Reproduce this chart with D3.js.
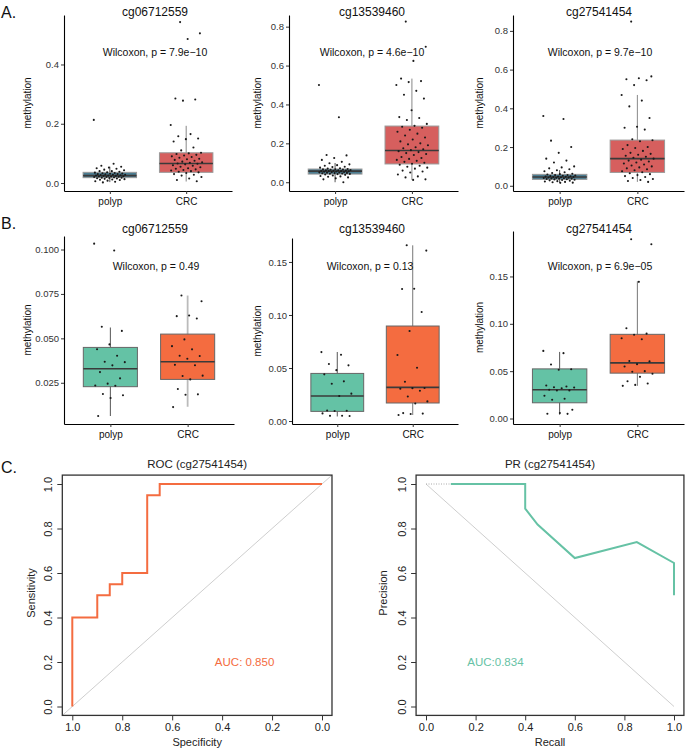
<!DOCTYPE html>
<html>
<head>
<meta charset="utf-8">
<script src="https://cdn.jsdelivr.net/npm/d3@7"></script>
<style>
body { margin: 0; background: #fff; }
svg { font-family: "Liberation Sans", Arial, sans-serif; }
</style>
</head>
<body>
<svg id="fig" width="685" height="750"></svg>
<script>
// ---- data ----
var groups = ["polyp", "CRC"];
var probes = ["cg06712559", "cg13539460", "cg27541454"];

// Panel A (large cohort)
var pValuesA = ["7.9e\u221210", "4.6e\u221210", "9.7e\u221210"];
// [lower whisker, q1, median, q3, upper whisker]
var boxPolypA = [[0.003, 0.018, 0.025, 0.036, 0.055], [0.0, 0.042, 0.057, 0.068, 0.099], [0.015, 0.033, 0.045, 0.059, 0.081]];
var boxCrcA = [[0.005, 0.036, 0.066, 0.102, 0.193], [0.012, 0.094, 0.163, 0.289, 0.533], [0.02, 0.069, 0.14, 0.236, 0.469]];
var polypA1 = [0.213, 0.065, 0.058, 0.055, 0.052, 0.05, 0.048, 0.045, 0.043, 0.04, 0.04, 0.038, 0.036, 0.035, 0.034, 0.033, 0.032, 0.031, 0.03, 0.03, 0.029, 0.028, 0.028, 0.027, 0.026, 0.025, 0.025, 0.024, 0.024, 0.023, 0.022, 0.022, 0.021, 0.02, 0.02, 0.019, 0.018, 0.018, 0.017, 0.016, 0.015, 0.014, 0.013, 0.012, 0.011, 0.01, 0.008, 0.006, 0.004, 0.002];
var crcA1 = [0.543, 0.505, 0.486, 0.285, 0.282, 0.278, 0.196, 0.165, 0.158, 0.15, 0.148, 0.14, 0.12, 0.11, 0.102, 0.1, 0.098, 0.095, 0.093, 0.09, 0.088, 0.085, 0.082, 0.08, 0.078, 0.075, 0.072, 0.07, 0.068, 0.066, 0.065, 0.063, 0.06, 0.058, 0.055, 0.053, 0.05, 0.048, 0.046, 0.044, 0.042, 0.04, 0.038, 0.036, 0.034, 0.03, 0.028, 0.025, 0.02, 0.015, 0.01, 0.006];
var polypA2 = [0.5, 0.334, 0.14, 0.138, 0.125, 0.115, 0.105, 0.098, 0.092, 0.088, 0.085, 0.08, 0.078, 0.075, 0.072, 0.07, 0.068, 0.067, 0.066, 0.065, 0.064, 0.063, 0.062, 0.061, 0.06, 0.059, 0.058, 0.057, 0.057, 0.056, 0.055, 0.054, 0.053, 0.052, 0.051, 0.05, 0.049, 0.048, 0.047, 0.046, 0.045, 0.044, 0.043, 0.042, 0.04, 0.038, 0.035, 0.032, 0.03, 0.028, 0.025, 0.02, 0.015, 0.0];
var crcA2 = [0.826, 0.697, 0.624, 0.533, 0.52, 0.515, 0.5, 0.47, 0.45, 0.43, 0.37, 0.335, 0.33, 0.32, 0.3, 0.29, 0.285, 0.28, 0.27, 0.26, 0.25, 0.24, 0.23, 0.22, 0.21, 0.2, 0.195, 0.19, 0.18, 0.175, 0.17, 0.165, 0.16, 0.155, 0.15, 0.145, 0.14, 0.13, 0.125, 0.12, 0.115, 0.11, 0.105, 0.1, 0.095, 0.09, 0.085, 0.08, 0.075, 0.07, 0.06, 0.055, 0.05, 0.04, 0.03, 0.025, 0.015, 0.012];
var polypA3 = [0.36, 0.345, 0.233, 0.2, 0.17, 0.14, 0.13, 0.12, 0.1, 0.095, 0.09, 0.085, 0.08, 0.075, 0.07, 0.066, 0.062, 0.06, 0.058, 0.056, 0.055, 0.053, 0.052, 0.05, 0.049, 0.048, 0.047, 0.046, 0.045, 0.045, 0.044, 0.043, 0.042, 0.041, 0.04, 0.039, 0.038, 0.037, 0.036, 0.035, 0.034, 0.033, 0.031, 0.03, 0.028, 0.026, 0.024, 0.022, 0.02, 0.018, 0.016, 0.015];
var crcA3 = [0.848, 0.565, 0.555, 0.55, 0.545, 0.52, 0.469, 0.44, 0.41, 0.35, 0.305, 0.3, 0.29, 0.24, 0.235, 0.23, 0.21, 0.2, 0.195, 0.19, 0.18, 0.17, 0.165, 0.16, 0.155, 0.15, 0.145, 0.14, 0.135, 0.13, 0.125, 0.12, 0.115, 0.11, 0.105, 0.1, 0.095, 0.09, 0.085, 0.08, 0.075, 0.07, 0.065, 0.06, 0.055, 0.05, 0.045, 0.04, 0.035, 0.03, 0.025, 0.02];

// Panel B (validation cohort)
var pValuesB = ["0.49", "0.13", "6.9e\u221205"];
var boxPolypB = [[0.0063, 0.0228, 0.0329, 0.0449, 0.0561], [0.0043, 0.0091, 0.0236, 0.0449, 0.0651], [0.004, 0.0166, 0.0303, 0.0524, 0.0703]];
var boxCrcB = [[0.0115, 0.0269, 0.0368, 0.0524, 0.0741], [0.0057, 0.017, 0.0317, 0.0896, 0.1657], [0.0345, 0.0479, 0.0587, 0.0889, 0.145]];
var polypB1 = [0.1033, 0.0994, 0.0565, 0.0542, 0.0466, 0.0439, 0.0402, 0.0368, 0.0366, 0.0348, 0.031, 0.0275, 0.0245, 0.0235, 0.0233, 0.0187, 0.018, 0.0164, 0.0063];
var crcB1 = [0.0741, 0.0709, 0.0629, 0.0625, 0.0612, 0.0494, 0.0456, 0.0438, 0.0402, 0.0401, 0.0385, 0.0351, 0.0349, 0.0288, 0.029, 0.0269, 0.0215, 0.0185, 0.0183, 0.0113];
var polypB2 = [0.065, 0.0625, 0.0538, 0.0525, 0.048, 0.044, 0.0374, 0.0352, 0.0258, 0.0236, 0.01, 0.0097, 0.0095, 0.0072, 0.005, 0.0049, 0.0048];
var crcB2 = [0.1657, 0.1607, 0.1248, 0.1245, 0.1028, 0.0849, 0.0622, 0.0503, 0.0371, 0.0311, 0.031, 0.0305, 0.0286, 0.0232, 0.0185, 0.0166, 0.0075, 0.007, 0.0066, 0.0057];
var polypB3 = [0.0714, 0.069, 0.057, 0.052, 0.0515, 0.0349, 0.0338, 0.033, 0.0328, 0.032, 0.0303, 0.0297, 0.0295, 0.024, 0.0208, 0.0198, 0.0093, 0.0058, 0.005, 0.0049];
var crcB3 = [0.1893, 0.184, 0.1443, 0.0953, 0.0896, 0.0885, 0.0847, 0.0837, 0.0608, 0.0603, 0.0574, 0.0549, 0.05, 0.0493, 0.0472, 0.044, 0.0394, 0.037, 0.0355, 0.0345];

// Panel C
var rocSpec = [1.0, 1.0, 0.9, 0.9, 0.85, 0.85, 0.8, 0.8, 0.7, 0.7, 0.65, 0.65, 0.0];
var rocSens = [0.0, 0.4, 0.4, 0.5, 0.5, 0.55, 0.55, 0.6, 0.6, 0.95, 0.95, 1.0, 1.0];
var prRecall = [0.1, 0.4, 0.4, 0.45, 0.6, 0.85, 1.0, 1.0];
var prPrecision = [1.0, 1.0, 0.889, 0.818, 0.667, 0.739, 0.645, 0.5];
var rocAuc = "AUC: 0.850";
var prAuc = "AUC:0.834";
var ticks01 = [0, 0.2, 0.4, 0.6, 0.8, 1.0];

// ---- style ----
var fillA = ["#4b7d92", "#d65f5e"];
var fillB = ["#64c2a5", "#f46c40"];
var orange = "#f46c40", green = "#66c2a5";
var svg = d3.select("#fig");

function boxPanel(cfg) {
	var g = svg.append("g");
	var x = d3.scalePoint().domain(groups).range([cfg.left, cfg.right]).padding(0.6);
	var y = d3.scaleLinear().domain(cfg.dom).range([cfg.bottom, cfg.top]);
	var u = x.step();
	var bw = 0.7 * u;
	groups.forEach(function (grp, gi) {
		var s = cfg.stats[gi], cx = x(grp);
		g.append("line").attr("x1", cx).attr("x2", cx).attr("y1", y(s[0])).attr("y2", y(s[4]))
			.attr("stroke", cfg.whisker[gi]).attr("stroke-width", cfg.whiskerW[gi]);
		g.append("rect").attr("x", cx - bw / 2).attr("width", bw).attr("y", y(s[3])).attr("height", y(s[1]) - y(s[3]))
			.attr("fill", cfg.fills[gi]).attr("stroke", cfg.outline).attr("stroke-width", 1);
		g.append("line").attr("x1", cx - bw / 2).attr("x2", cx + bw / 2).attr("y1", y(s[2])).attr("y2", y(s[2]))
			.attr("stroke", "#3a3a3a").attr("stroke-width", 1.6);
		g.selectAll(null).data(cfg.points[gi]).enter().append("circle")
			.attr("cx", function (d, i) { return cx + ((i * 0.6180339887 + gi * 0.31) % 1 - 0.5) * 0.42 * u; })
			.attr("cy", function (d) { return y(d); })
			.attr("r", 1.05).attr("fill", "#1a1a1a");
	});
	var ya = g.append("g").attr("transform", "translate(" + cfg.left + ",0)")
		.call(d3.axisLeft(y).tickValues(cfg.ticks).tickFormat(d3.format(cfg.fmt)).tickSize(3).tickSizeOuter(0).tickPadding(2));
	var xa = g.append("g").attr("transform", "translate(0," + cfg.bottom + ")")
		.call(d3.axisBottom(x).tickSize(3).tickSizeOuter(0).tickPadding(4));
	[ya, xa].forEach(function (a) {
		a.select(".domain").attr("stroke", "#000").attr("stroke-width", 1.1);
		a.selectAll(".tick line").attr("stroke", "#333");
		a.selectAll(".tick text").attr("fill", "#333").attr("font-size", 9.5).attr("font-family", "Liberation Sans, Arial, sans-serif");
	});
	xa.selectAll(".tick text").attr("fill", "#111").attr("font-size", 10);
	g.append("text").attr("transform", "translate(" + cfg.ylabX + "," + ((cfg.top + cfg.bottom) / 2) + ") rotate(-90)")
		.attr("text-anchor", "middle").attr("font-size", 10).attr("fill", "#111").text("methylation");
	g.append("text").attr("x", cfg.titleX).attr("y", cfg.titleY).attr("text-anchor", "middle")
		.attr("font-size", 12).attr("fill", "#111").text(cfg.title);
	g.append("text").attr("x", cfg.pX).attr("y", cfg.pY).attr("text-anchor", "middle")
		.attr("font-size", 10.5).attr("fill", "#111").text("Wilcoxon, p = " + cfg.p);
}

var frameA = [
	{ left: 64, right: 232, dom: [-0.027, 0.567], ticks: [0, 0.2, 0.4], ylabX: 31, titleX: 155, pX: 155 },
	{ left: 289, right: 458, dom: [-0.045, 0.86], ticks: [0, 0.2, 0.4, 0.6, 0.8], ylabX: 261, titleX: 372, pX: 372 },
	{ left: 513, right: 684, dom: [-0.027, 0.882], ticks: [0, 0.2, 0.4, 0.6, 0.8], ylabX: 483, titleX: 599, pX: 600 }
];
var ptsA = [[polypA1, crcA1], [polypA2, crcA2], [polypA3, crcA3]];
frameA.forEach(function (f, i) {
	boxPanel({
		left: f.left, right: f.right, top: 15, bottom: 191, dom: f.dom, ticks: f.ticks, fmt: ".1f",
		stats: [boxPolypA[i], boxCrcA[i]], points: ptsA[i], fills: fillA, outline: "#9a9a9a",
		whisker: ["#555", "#888"], whiskerW: [1, 1],
		ylabX: f.ylabX, title: probes[i], titleX: f.titleX, titleY: 16, p: pValuesA[i], pX: f.pX, pY: 56
	});
});

var frameB = [
	{ left: 64, right: 234, top: 236, dom: [0.0018, 0.1076], ticks: [0.025, 0.05, 0.075, 0.1], fmt: ".3f", ylabX: 31, titleX: 155, pX: 156 },
	{ left: 292, right: 458, top: 238, dom: [-0.0028, 0.1726], ticks: [0, 0.05, 0.1, 0.15], fmt: ".2f", ylabX: 261, titleX: 372, pX: 370 },
	{ left: 513, right: 684, top: 231, dom: [-0.0058, 0.198], ticks: [0, 0.05, 0.1, 0.15], fmt: ".2f", ylabX: 483, titleX: 599, pX: 600 }
];
var ptsB = [[polypB1, crcB1], [polypB2, crcB2], [polypB3, crcB3]];
frameB.forEach(function (f, i) {
	boxPanel({
		left: f.left, right: f.right, top: f.top, bottom: 424, dom: f.dom, ticks: f.ticks, fmt: f.fmt,
		stats: [boxPolypB[i], boxCrcB[i]], points: ptsB[i], fills: fillB, outline: "#666",
		whisker: ["#555", i === 0 ? "#bbb" : "#777"], whiskerW: [1, i === 0 ? 1.8 : 1],
		ylabX: f.ylabX, title: probes[i], titleX: f.titleX, titleY: 233, p: pValuesB[i], pX: f.pX, pY: 270
	});
});

// ---- panel C: base-R style curves ----
function curvePanel(cfg) {
	var g = svg.append("g");
	var x = d3.scaleLinear().domain(cfg.xdom).range([cfg.x0, cfg.x1]);
	var y = d3.scaleLinear().domain([0, 1]).range([706.5, 484]);
	var pad = 0.04;
	var fx0 = x(cfg.xdom[0] - pad * (cfg.xdom[1] - cfg.xdom[0])), fx1 = x(cfg.xdom[1] + pad * (cfg.xdom[1] - cfg.xdom[0]));
	var fy0 = y(-pad), fy1 = y(1 + pad);
	var clipId = "clip" + cfg.id;
	g.append("clipPath").attr("id", clipId).append("rect")
		.attr("x", Math.min(fx0, fx1)).attr("y", fy1).attr("width", Math.abs(fx1 - fx0)).attr("height", fy0 - fy1);
	var body = g.append("g").attr("clip-path", "url(#" + clipId + ")");
	body.append("line").attr("x1", x(cfg.diag[0][0])).attr("y1", y(cfg.diag[0][1]))
		.attr("x2", x(cfg.diag[1][0])).attr("y2", y(cfg.diag[1][1]))
		.attr("stroke", "#c8c8c8").attr("stroke-width", 0.9);
	if (cfg.lead) {
		body.append("line").attr("x1", x(cfg.lead[0][0])).attr("y1", y(cfg.lead[0][1]))
			.attr("x2", x(cfg.lead[1][0])).attr("y2", y(cfg.lead[1][1]))
			.attr("stroke", "#aaa").attr("stroke-width", 1).attr("stroke-dasharray", "1,1.5");
	}
	var line = d3.line().x(function (d) { return x(d[0]); }).y(function (d) { return y(d[1]); });
	body.append("path").datum(d3.zip(cfg.xs, cfg.ys)).attr("d", line)
		.attr("fill", "none").attr("stroke", cfg.color).attr("stroke-width", 2);
	g.append("rect").attr("x", Math.min(fx0, fx1)).attr("y", fy1).attr("width", Math.abs(fx1 - fx0)).attr("height", fy0 - fy1)
		.attr("fill", "none").attr("stroke", "#333").attr("stroke-width", 1.3);
	var xa = g.append("g").attr("transform", "translate(0," + fy0 + ")")
		.call(d3.axisBottom(x).tickValues(ticks01).tickFormat(d3.format(".1f")).tickSize(5).tickPadding(3));
	xa.select(".domain").remove();
	var ya = g.append("g").attr("transform", "translate(" + Math.min(fx0, fx1) + ",0)")
		.call(d3.axisLeft(y).tickValues(ticks01).tickFormat(d3.format(".1f")).tickSize(5));
	ya.select(".domain").remove();
	ya.selectAll(".tick text").attr("transform", "rotate(-90)").attr("text-anchor", "middle").attr("x", 0).attr("y", -10).attr("dy", 0);
	[xa, ya].forEach(function (a) {
		a.selectAll(".tick line").attr("stroke", "#333");
		a.selectAll(".tick text").attr("fill", "#222").attr("font-size", 11).attr("font-family", "Liberation Sans, Arial, sans-serif");
	});
	var cx = (fx0 + fx1) / 2;
	g.append("text").attr("x", cx).attr("y", 468).attr("text-anchor", "middle").attr("font-size", 11.5).attr("fill", "#222").text(cfg.title);
	g.append("text").attr("x", cx).attr("y", 746).attr("text-anchor", "middle").attr("font-size", 11).attr("fill", "#222").text(cfg.xlab);
	g.append("text").attr("transform", "translate(" + cfg.ylabX + ",593) rotate(-90)").attr("text-anchor", "middle")
		.attr("font-size", 11).attr("fill", "#222").text(cfg.ylab);
	g.append("text").attr("x", x(cfg.aucAt[0])).attr("y", y(cfg.aucAt[1])).attr("text-anchor", "middle")
		.attr("font-size", 11.5).attr("fill", cfg.color).text(cfg.auc);
}

curvePanel({
	id: "roc", xdom: [1, 0], x0: 72.3, x1: 322, xs: rocSpec, ys: rocSens, color: orange,
	diag: [[1.1, -0.1], [-0.1, 1.1]], title: "ROC (cg27541454)", xlab: "Specificity", ylab: "Sensitivity",
	ylabX: 35, auc: rocAuc, aucAt: [0.31, 0.18]
});
curvePanel({
	id: "pr", xdom: [0, 1], x0: 426, x1: 674, xs: prRecall, ys: prPrecision, color: green,
	diag: [[0, 1], [1, 0]], lead: [[0, 1], [prRecall[0], prPrecision[0]]],
	title: "PR (cg27541454)", xlab: "Recall", ylab: "Precision",
	ylabX: 387, auc: prAuc, aucAt: [0.28, 0.18]
});

// panel letters
[["A.", 18], ["B.", 229], ["C.", 473]].forEach(function (d) {
	svg.append("text").attr("x", 1).attr("y", d[1]).attr("font-size", 16).attr("fill", "#111").text(d[0]);
});
</script>
</body>
</html>
